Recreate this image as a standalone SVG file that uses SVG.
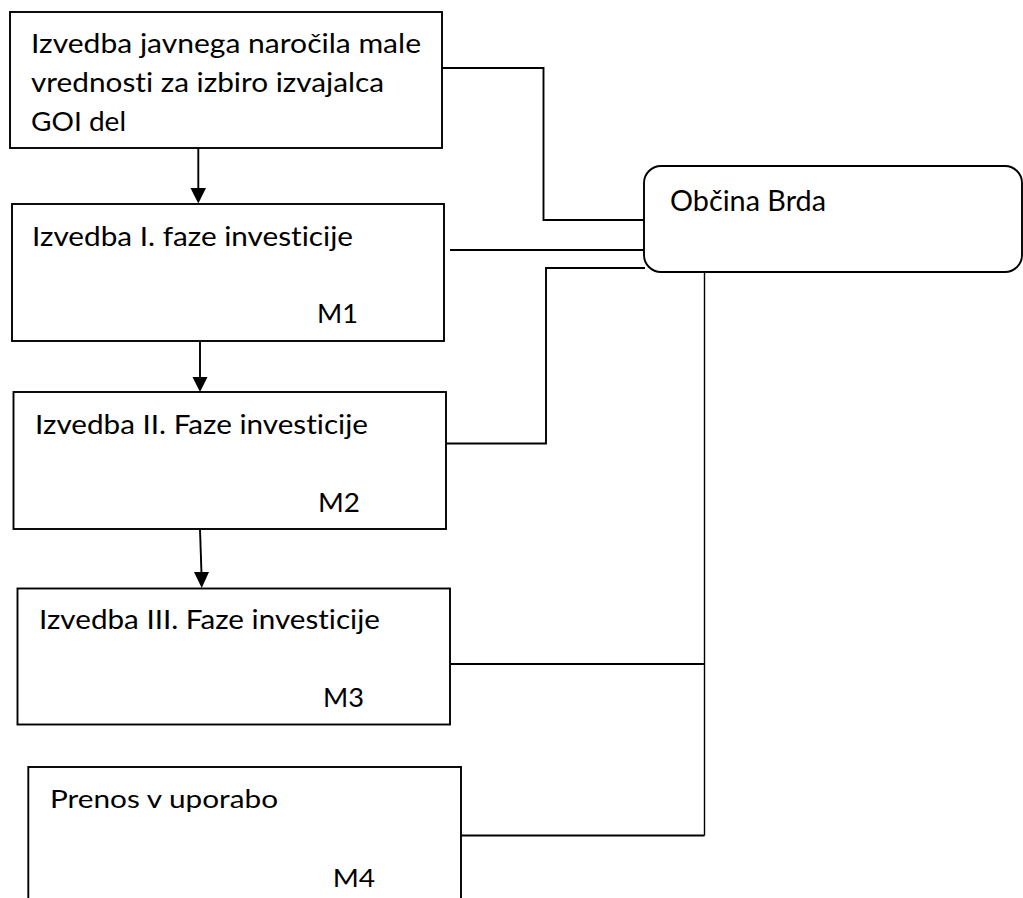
<svg xmlns="http://www.w3.org/2000/svg" width="1023" height="898" viewBox="0 0 1023 898">
<defs>
<style>
.box{fill:#fff;stroke:#000;stroke-width:1.9}
.t,.ts{font-family:Lato,"Open Sans","Liberation Sans",sans-serif;fill:#000;font-variant-ligatures:none;font-feature-settings:"liga" 0,"clig" 0}
.t{font-size:27.5px}
.ts{font-size:24.5px}
.c{fill:none;stroke:#000;stroke-width:1.9}
.cv{fill:none;stroke:#000;stroke-width:1.4}
.ah{fill:#000;stroke:none}
</style>
</defs>
<rect width="1023" height="898" fill="#fff"/>
<g id="connectors">
<polyline class="c" points="442,68 543.5,68 543.5,220 644,220"/>
<line class="c" x1="450" y1="250" x2="648" y2="250"/>
<polyline class="c" points="446,443.5 546,443.5 546,268 645,268"/>
<line class="cv" x1="704.5" y1="273" x2="704.5" y2="835.5"/>
<line class="c" x1="450" y1="664" x2="704.5" y2="664"/>
<line class="c" x1="461" y1="835.5" x2="704.5" y2="835.5"/>
<line class="c" x1="198.3" y1="147" x2="198.3" y2="190"/>
<polygon class="ah" points="190.5,188 206,188 198.3,203.5"/>
<line class="c" x1="200" y1="341" x2="200" y2="379"/>
<polygon class="ah" points="192.5,377 207.5,377 200,392"/>
<line class="c" x1="200" y1="529" x2="201.5" y2="574"/>
<polygon class="ah" points="194,572 209,572 201.7,588"/>
</g>
<g id="node-javno-narocilo">
<rect class="box" x="10" y="12" width="432" height="136"/>
<text class="t" x="31" y="53" textLength="390" lengthAdjust="spacingAndGlyphs">Izvedba javnega naročila male</text>
<text class="t" x="31" y="92" textLength="353" lengthAdjust="spacingAndGlyphs">vrednosti za izbiro izvajalca</text>
<text class="t" x="31" y="130.5" textLength="95" lengthAdjust="spacingAndGlyphs">GOI del</text>
</g>
<g id="node-faza1">
<rect class="box" x="12" y="204" width="432" height="137"/>
<text class="t" x="32" y="246" textLength="321" lengthAdjust="spacingAndGlyphs">Izvedba I. faze investicije</text>
<text class="t" x="317" y="323" textLength="41" lengthAdjust="spacingAndGlyphs">M1</text>
</g>
<g id="node-faza2">
<rect class="box" x="13.5" y="392" width="432.5" height="137"/>
<text class="t" x="35" y="434" textLength="333" lengthAdjust="spacingAndGlyphs">Izvedba II. Faze investicije</text>
<text class="t" x="318" y="511.5" textLength="42" lengthAdjust="spacingAndGlyphs">M2</text>
</g>
<g id="node-faza3">
<rect class="box" x="17.5" y="588.5" width="432.5" height="136"/>
<text class="t" x="39" y="629" textLength="341" lengthAdjust="spacingAndGlyphs">Izvedba III. Faze investicije</text>
<text class="t" x="323" y="707" textLength="41" lengthAdjust="spacingAndGlyphs">M3</text>
</g>
<g id="node-prenos">
<rect class="box" x="28.3" y="767" width="432.7" height="145"/>
<text class="ts" x="50" y="808.3" textLength="228" lengthAdjust="spacingAndGlyphs">Prenos v uporabo</text>
<text class="ts" x="332.7" y="886.7" textLength="42.5" lengthAdjust="spacingAndGlyphs">M4</text>
</g>
<g id="node-obcina">
<rect class="box" x="644" y="166" width="378" height="106" rx="17" ry="17"/>
<text class="t" x="670" y="211" textLength="156" lengthAdjust="spacingAndGlyphs" style="font-size:28px">Občina Brda</text>
</g>
</svg>
